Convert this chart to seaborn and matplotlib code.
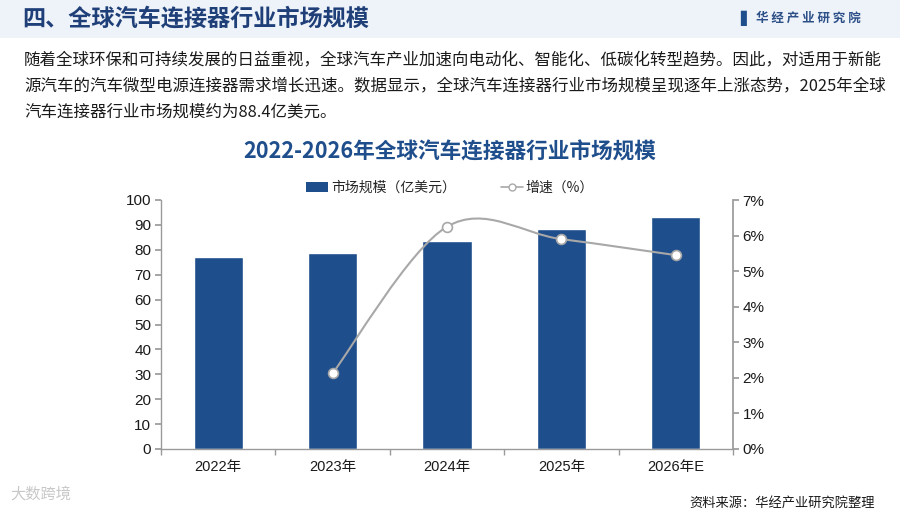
import numpy as np
import pandas as pd
import matplotlib
matplotlib.use("Agg")
import matplotlib.pyplot as plt
from matplotlib.path import Path
from matplotlib.patches import PathPatch, Rectangle
from matplotlib.lines import Line2D
import seaborn as sns

years = ["2022年", "2023年", "2024年", "2025年", "2026年E"]
market_size = [77.1, 78.8, 83.4, 88.4, 93.3]
growth = [None, 2.13, 6.25, 5.9, 5.45]

left_ticks = list(range(0, 101, 10))
right_ticks = list(range(0, 8))

BLUE = "#1F4E8C"
GRAY = "#A8A8A8"
FONTS = ["Noto Sans CJK SC", "DejaVu Sans"]
NUM_FONTS = ["Liberation Sans", "Noto Sans CJK SC"]


def smooth_path(xs, ys, k=1 / 6):
    # Catmull-Rom style bezier through the points (like excel's smoothed line)
    pts = np.column_stack([xs, ys])
    verts = [pts[0]]
    codes = [Path.MOVETO]
    n = len(pts)
    for i in range(n - 1):
        p0 = pts[i - 1] if i > 0 else pts[i]
        p1 = pts[i]
        p2 = pts[i + 1]
        p3 = pts[i + 2] if i + 2 < n else pts[i + 1]
        c1 = p1 + (p2 - p0) * k
        c2 = p2 - (p3 - p1) * k
        verts += [c1, c2, p2]
        codes += [Path.CURVE4] * 3
    return Path(verts, codes)


def main():
    sns.set_theme(style="white")
    plt.rcParams["font.family"] = FONTS
    plt.rcParams["axes.unicode_minus"] = False

    df = pd.DataFrame({"year": years, "size": market_size, "growth": growth})

    fig = plt.figure(figsize=(9, 5.15), dpi=100)
    fig.patch.set_facecolor("white")

    # header band
    fig.patches.append(Rectangle((0.0, 1 - 38 / 515), 1.0, 38 / 515, transform=fig.transFigure,
                                 facecolor="#EEF2F9", edgecolor="none", zorder=0))
    fig.text(22 / 900, 1 - 19 / 515, "四、全球汽车连接器行业市场规模", fontsize=16.7,
             fontweight="bold", color="#1F3F78", va="center", ha="left")
    fig.text(740 / 900, 1 - 18 / 515, "▌", fontsize=11, color="#1F4E8C", va="center", ha="left",
             family=["DejaVu Sans"])
    fig.text(756 / 900, 1 - 18 / 515, "华 经 产 业 研 究 院", fontsize=9, fontweight="bold",
             color="#2B4F86", va="center", ha="left")

    para = ["随着全球环保和可持续发展的日益重视，全球汽车产业加速向电动化、智能化、低碳化转型趋势。因此，对适用于新能",
            "源汽车的汽车微型电源连接器需求增长迅速。数据显示，全球汽车连接器行业市场规模呈现逐年上涨态势，2025年全球",
            "汽车连接器行业市场规模约为88.4亿美元。"]
    for i, line in enumerate(para):
        fig.text(24 / 900, 1 - (60 + 26 * i) / 515, line, fontsize=11.85, color="#1a1a1a",
                 va="center", ha="left")

    fig.text(0.5, 1 - 152 / 515, "2022-2026年全球汽车连接器行业市场规模", fontsize=15.6,
             fontweight="bold", color=BLUE, va="center", ha="center")

    ax = fig.add_axes([161 / 900, 1 - 449 / 515, (733 - 161) / 900, (449 - 200) / 515])
    sns.barplot(data=df, x="year", y="size", color=BLUE, width=0.43, saturation=1, ax=ax, zorder=2)
    ax.set_ylim(0, 100)
    ax.set_xlim(-0.5, len(years) - 0.5)
    ax.set_yticks(left_ticks)
    ax.set_xlabel("")
    ax.set_ylabel("")
    ax.set_facecolor("none")
    for s in ["top", "right"]:
        ax.spines[s].set_visible(False)
    for s in ["left", "bottom"]:
        ax.spines[s].set_color("#9a9a9a")
        ax.spines[s].set_linewidth(1)
    ax.tick_params(axis="y", which="major", left=True, length=4, color="#9a9a9a",
                   labelsize=11, labelcolor="#1a1a1a", pad=3)
    ax.tick_params(axis="x", which="major", bottom=False, length=0, labelsize=10.5,
                   labelcolor="#1a1a1a", pad=8)
    ax.set_xticks(np.arange(-0.5, len(years), 1), minor=True)
    ax.tick_params(axis="x", which="minor", bottom=True, length=4, color="#9a9a9a")
    for lab in ax.get_yticklabels() + ax.get_xticklabels():
        lab.set_family(NUM_FONTS)

    ax2 = ax.twinx()
    ax2.set_ylim(0, 7)
    ax2.set_yticks(right_ticks)
    ax2.set_yticklabels([f"{t}%" for t in right_ticks])
    for s in ["top", "left", "bottom"]:
        ax2.spines[s].set_visible(False)
    ax2.spines["right"].set_color("#9a9a9a")
    ax2.tick_params(axis="y", right=True, length=4, color="#9a9a9a", labelsize=11,
                    labelcolor="#1a1a1a", pad=3)
    for lab in ax2.get_yticklabels():
        lab.set_family(NUM_FONTS)
    ax2.grid(False)
    ax.grid(False)

    g = df.dropna(subset=["growth"])
    xs = g.index.to_numpy(dtype=float)
    ys = g["growth"].to_numpy(dtype=float)
    ax2.add_patch(PathPatch(smooth_path(xs, ys), facecolor="none", edgecolor=GRAY, lw=1.5,
                            zorder=3))
    sns.scatterplot(x=xs, y=ys, ax=ax2, s=50, color="white", edgecolor=GRAY, linewidth=1.2,
                    zorder=4, legend=False)

    handles = [Rectangle((0, 0), 1, 1, facecolor=BLUE, edgecolor="none"),
               Line2D([0], [0], color=GRAY, lw=1.2, marker="o", markersize=5,
                      markerfacecolor="white", markeredgecolor=GRAY)]
    fig.legend(handles, ["市场规模（亿美元）", "增速（%）"], loc="center",
               bbox_to_anchor=(0.5, 1 - 188 / 515), ncol=2, frameon=False, fontsize=10,
               handlelength=1.6, handleheight=0.8, handletextpad=0.2, columnspacing=3.2)

    fig.text(875 / 900, 1 - 503 / 515, "资料来源：华经产业研究院整理", fontsize=9.5,
             color="#1a1a1a", va="center", ha="right")
    fig.text(10 / 900, 1 - 494 / 515, "大数跨境", fontsize=11, color="#c8c8c8",
             va="center", ha="left")

    fig.savefig("out.png", dpi=100, facecolor="white")


if __name__ == "__main__":
    main()
